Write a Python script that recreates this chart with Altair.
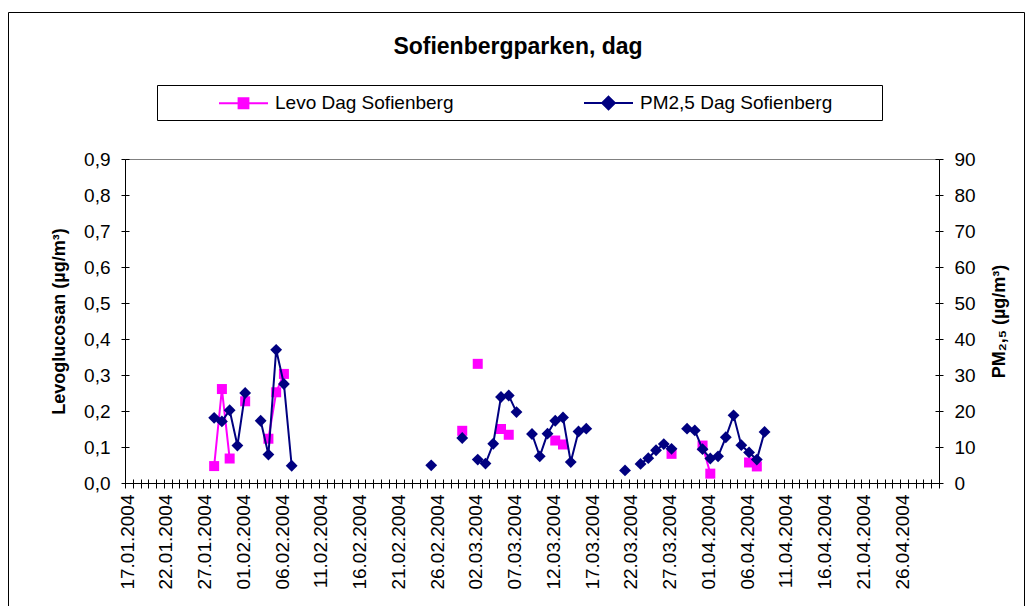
import json
import pandas as pd
import altair as alt

# ---------------- data ----------------
TITLE = "Sofienbergparken, dag"
SERIES = ["Levo Dag Sofienberg", "PM2,5 Dag Sofienberg"]
COLORS = ["#FF00FF", "#000080"]
LEFT_TITLE = "Levoglucosan (µg/m³)"
RIGHT_TITLE = "PM₂,₅ (µg/m³)"

levo_dates = ["2004-01-28", "2004-01-29", "2004-01-30", "2004-02-01", "2004-02-04",
              "2004-02-05", "2004-02-06", "2004-02-29", "2004-03-02", "2004-03-05",
              "2004-03-06", "2004-03-12", "2004-03-13", "2004-03-27", "2004-03-31",
              "2004-04-01", "2004-04-06", "2004-04-07"]
levo_values = [0.047, 0.261, 0.068, 0.227, 0.123,
               0.252, 0.303, 0.145, 0.331, 0.150,
               0.134, 0.118, 0.107, 0.081, 0.104,
               0.026, 0.057, 0.046]

pm_dates = ["2004-01-28", "2004-01-29", "2004-01-30", "2004-01-31", "2004-02-01",
            "2004-02-03", "2004-02-04", "2004-02-05", "2004-02-06", "2004-02-07",
            "2004-02-25", "2004-02-29", "2004-03-02", "2004-03-03", "2004-03-04",
            "2004-03-05", "2004-03-06", "2004-03-07", "2004-03-09", "2004-03-10",
            "2004-03-11", "2004-03-12", "2004-03-13", "2004-03-14", "2004-03-15",
            "2004-03-16", "2004-03-21", "2004-03-23", "2004-03-24", "2004-03-25",
            "2004-03-26", "2004-03-27", "2004-03-29", "2004-03-30", "2004-03-31",
            "2004-04-01", "2004-04-02", "2004-04-03", "2004-04-04", "2004-04-05",
            "2004-04-06", "2004-04-07", "2004-04-08"]
pm_values = [18.1, 17.1, 20.2, 10.4, 25.0,
             17.3, 7.9, 37.0, 27.5, 4.8,
             4.9, 12.5, 6.5, 5.4, 10.9,
             23.9, 24.3, 19.7, 13.6, 7.4,
             13.7, 17.3, 18.2, 5.8, 14.3,
             15.1, 3.5, 5.3, 6.9, 9.1,
             10.8, 9.5, 15.1, 14.6, 9.4,
             6.8, 7.4, 12.7, 18.8, 10.5,
             8.5, 6.5, 14.2]

tick_labels = ["17.01.2004", "22.01.2004", "27.01.2004", "01.02.2004", "06.02.2004",
               "11.02.2004", "16.02.2004", "21.02.2004", "26.02.2004", "02.03.2004",
               "07.03.2004", "12.03.2004", "17.03.2004", "22.03.2004", "27.03.2004",
               "01.04.2004", "06.04.2004", "11.04.2004", "16.04.2004", "21.04.2004",
               "26.04.2004"]
x_first = "2004-01-17"
x_last = "2004-05-01"
left_ticks = [0.0, 0.1, 0.2, 0.3, 0.4, 0.5, 0.6, 0.7, 0.8, 0.9]
right_ticks = [0, 10, 20, 30, 40, 50, 60, 70, 80, 90]

FONT = "Liberation Sans, Arial, sans-serif"
TICK_FS = 19


def series_frame(dates, values, name):
    d = pd.to_datetime(pd.Series(dates))
    seg = (d.diff().dt.days.fillna(1) > 1).cumsum()
    return pd.DataFrame({
        "t": [s + "T12:00:00Z" for s in dates],   # plotted in the middle of each day
        "v": values,
        "seg": seg.values,
        "series": name,
    })


levo_df = series_frame(levo_dates, levo_values, SERIES[0])
pm_df = series_frame(pm_dates, pm_values, SERIES[1])


def dt(s):
    ts = pd.Timestamp(s)
    return alt.DateTime(year=ts.year, month=ts.month, date=ts.day, utc=True)


day_ticks = [int(ts.value // 10**6) for ts in pd.date_range(x_first, x_last, freq="D", tz="UTC")]
label_expr = ("indexof(" + json.dumps(tick_labels) + ", utcFormat(datum.value, '%d.%m.%Y')) >= 0"
              " ? utcFormat(datum.value, '%d.%m.%Y') : ''")


def x_scale():
    return alt.Scale(type="utc", domain=[dt(x_first), dt(x_last)])


x_enc = alt.X(
    "t:T", scale=x_scale(),
    axis=alt.Axis(values=day_ticks, labelExpr=label_expr, labelAngle=270, labelOverlap=False,
                  labelFlush=False, labelBound=False, tickSize=5, labelPadding=6, labelOffset=2,
                  labelFontSize=TICK_FS, grid=False, title=None, orient="bottom"),
    title=None,
)
x_noaxis = alt.X("t:T", scale=x_scale(), axis=None, title=None)

yL_scale = dict(domain=[0, 0.9], nice=False, zero=True)
yR_scale = dict(domain=[0, 90], nice=False, zero=True)

yL = alt.Y("v:Q", scale=alt.Scale(**yL_scale),
           axis=alt.Axis(orient="left", values=left_ticks,
                         labelExpr="replace(format(datum.value, '.1f'), '.', ',')",
                         title=LEFT_TITLE, grid=False, tickSize=4, labelPadding=11,
                         titlePadding=15, labelFontSize=TICK_FS))
yR = alt.Y("v:Q", scale=alt.Scale(**yR_scale),
           axis=alt.Axis(orient="right", values=right_ticks, format="d",
                         title=RIGHT_TITLE, grid=False, tickSize=4, labelPadding=11,
                         titlePadding=15, titleAngle=270, titleBaseline="top",
                         labelFontSize=TICK_FS))

levo_line = alt.Chart(levo_df).mark_line(color=COLORS[0], strokeWidth=2).encode(
    x=x_enc, y=yL, detail="seg:N")
levo_pts = alt.Chart(levo_df).mark_point(shape="square", filled=True, size=100,
                                          color=COLORS[0], opacity=1).encode(x=x_enc, y=yL)
pm_line = alt.Chart(pm_df).mark_line(color=COLORS[1], strokeWidth=2).encode(
    x=x_noaxis, y=yR, detail="seg:N")
pm_pts = alt.Chart(pm_df).mark_point(shape="diamond", filled=True, size=140,
                                      color=COLORS[1], opacity=1).encode(x=x_noaxis, y=yR)

levo_layer = alt.layer(levo_line, levo_pts)
pm_layer = alt.layer(pm_line, pm_pts)

# inner halves of the Excel-style crossing tick marks
empty = pd.DataFrame({"t": ["2004-01-17T00:00:00Z"], "v": [0.0]})
inner_x = alt.Chart(empty).transform_filter("false").mark_point().encode(
    x=alt.X("t:T", scale=x_scale(),
            axis=alt.Axis(orient="bottom", values=day_ticks, labels=False, domain=False,
                          tickSize=4, offset=-4, grid=False, title=None)))
inner_yl = alt.Chart(empty).transform_filter("false").mark_point().encode(
    y=alt.Y("v:Q", scale=alt.Scale(**yL_scale),
            axis=alt.Axis(orient="left", values=left_ticks, labels=False, domain=False,
                          tickSize=4, offset=-4, grid=False, title=None)))
inner_yr = alt.Chart(empty).transform_filter("false").mark_point().encode(
    y=alt.Y("v:Q", scale=alt.Scale(**yR_scale),
            axis=alt.Axis(orient="right", values=right_ticks, labels=False, domain=False,
                          tickSize=4, offset=-4, grid=False, title=None)))

# legend (Excel style: line with marker)
PATH_LEVO = "M-1,0H1M-0.2,-0.2H0.2V0.2H-0.2Z"
PATH_PM = "M-1,0H1M0,-0.26L0.26,0L0,0.26L-0.26,0Z"
leg = alt.Legend(title=None, orient="none", legendX=93, legendY=-81.5, direction="horizontal",
                 symbolSize=2401, symbolStrokeWidth=2, symbolOpacity=1,
                 labelFont=FONT, labelFontSize=19, labelColor="black", labelLimit=400,
                 labelOffset=6, columnPadding=126, padding=0)
legend_layer = alt.Chart(pd.DataFrame({"series": SERIES})).transform_filter("false").mark_point(
    filled=True, opacity=1).encode(
    fill=alt.Fill("series:N", scale=alt.Scale(domain=SERIES, range=COLORS), legend=leg),
    stroke=alt.Stroke("series:N", scale=alt.Scale(domain=SERIES, range=COLORS), legend=leg),
    shape=alt.Shape("series:N", scale=alt.Scale(domain=SERIES, range=[PATH_LEVO, PATH_PM]), legend=leg),
)

one = pd.DataFrame({"label": [TITLE]})
frame = alt.Chart(one).mark_rect(fill="transparent", stroke="black", strokeWidth=1).encode(
    x=alt.value(-116.5), x2=alt.value(899.5), y=alt.value(-146.5), y2=alt.value(460))
legend_box = alt.Chart(one).mark_rect(fill="white", stroke="black", strokeWidth=1).encode(
    x=alt.value(32.5), x2=alt.value(757.5), y=alt.value(-73.5), y2=alt.value(-38.5))
title_text = alt.Chart(one).mark_text(font=FONT, fontSize=23, fontWeight="bold", align="center",
                                      baseline="alphabetic", color="black").encode(
    x=alt.value(393), y=alt.value(-105), text="label:N")

chart = alt.layer(frame, legend_box, title_text, levo_layer, pm_layer,
                  inner_x, inner_yl, inner_yr, legend_layer).resolve_scale(
    x="independent", y="independent"
).properties(
    width=814, height=324,
    autosize=alt.AutoSizeParams(type="none"),
    padding={"left": 117, "top": 151, "right": 86, "bottom": 123},
    background="white",
).configure_view(
    fill="#C0C0C0", stroke="#808080", strokeWidth=1
).configure_axis(
    labelFont=FONT, titleFont=FONT, labelColor="black", titleColor="black",
    domainColor="black", tickColor="black", titleFontSize=18, titleFontWeight="bold",
)

chart.save("out.html", embed_options={"renderer": "svg", "actions": False})
